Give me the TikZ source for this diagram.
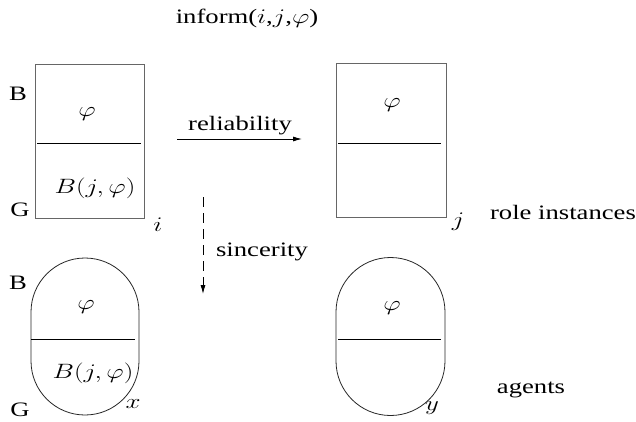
\documentclass[tikz,border=0pt]{standalone}
\usepackage{fontspec}
\setmainfont{Liberation Serif}
\usepackage{graphicx}
\usetikzlibrary{arrows.meta}
\newcommand{\sx}[1]{\scalebox{1.3}[1]{#1}}
\tikzset{
  lbl/.style={inner sep=0pt, font=\fontsize{20.5}{24}\selectfont},
  boxline/.style={draw=black!60, line width=0.9pt},
  divline/.style={draw=black, line width=0.8pt},
  capline/.style={draw=black!85, line width=0.8pt},
  arr/.style={line width=0.8pt, -{Latex[length=9pt,width=5pt]}},
  darr/.style={line width=0.8pt, dash pattern=on 10pt off 6pt, -{Latex[length=9pt,width=5pt]}}
}
\begin{document}
\begin{tikzpicture}[x=1pt,y=-1pt]
\useasboundingbox (0,0) rectangle (636,422);
% role instance boxes
\draw[boxline] (35,64) rectangle (144,218);
\draw[divline] (37,143) -- (141,143);
\draw[boxline] (336,63) rectangle (446,217);
\draw[divline] (338,143) -- (441,143);
% agent capsules
\draw[capline] (31,312) arc[start angle=180, end angle=360, radius=54] -- (139,361) arc[start angle=0, end angle=180, radius=54] -- cycle;
\draw[divline] (31,339) -- (135,339);
\draw[capline] (336,312) arc[start angle=180, end angle=360, radius=54.5] -- (445,361) arc[start angle=0, end angle=180, radius=54.5] -- cycle;
\draw[divline] (338,339) -- (441,339);
% labels
\node[lbl] (inf) at (247,18) {\sx{inform($i$,$j$,$\varphi$)}};
\node[lbl] (Bi) at (18,94) {\sx{B}};
\node[lbl] (Gi) at (20,210) {\sx{G}};
\node[lbl] (phii) at (87,114) {\sx{$\varphi$}};
\node[lbl] (Bji) at (95,188) {\sx{$B(j,\varphi)$}};
\node[lbl] (ni) at (158,225) {\sx{$i$}};
\node[lbl] (phij) at (392,105) {\sx{$\varphi$}};
\node[lbl] (nj) at (458,222) {\sx{$j$}};
\node[lbl] (role) at (563,212) {\sx{role instances}};
\node[lbl] (Bx) at (18,283) {\sx{B}};
\node[lbl] (Gx) at (20,410) {\sx{G}};
\node[lbl] (phix) at (86,307) {\sx{$\varphi$}};
\node[lbl] (Bjx) at (93,373) {\sx{$B(j,\varphi)$}};
\node[lbl] (nx) at (133,404) {\sx{$x$}};
\node[lbl] (phiy) at (392,308) {\sx{$\varphi$}};
\node[lbl] (ny) at (432,408) {\sx{$y$}};
\node[lbl] (agents) at (531,390) {\sx{agents}};
% arrows
\coordinate (r1) at (177,139);
\coordinate (r2) at (302,139);
\draw[arr] (r1) -- (r2);
\node[lbl] (rel) at (240,126) {\sx{reliability}};
\coordinate (s1) at (203,197);
\coordinate (s2) at (203,294);
\draw[darr] (s1) -- (s2);
\node[lbl] (sin) at (262,252) {\sx{sincerity}};
\end{tikzpicture}
\end{document}
